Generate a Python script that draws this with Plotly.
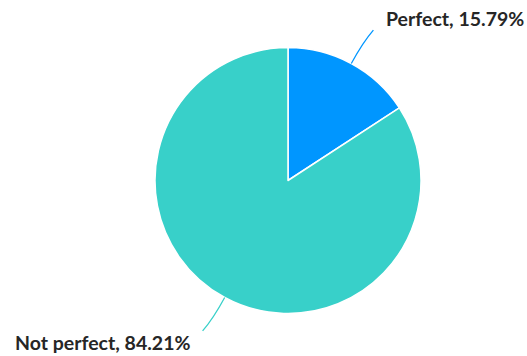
import math
import plotly.graph_objects as go

labels = ["Perfect", "Not perfect"]
values = [15.79, 84.21]
colors = ["#0096FF", "#38D0C9"]

W, H = 527, 356
cx, cy, r = 288, 180.5, 133  # pie centre / radius in pixels

def px(x):
    return x / W

def py(y):
    return 1 - y / H

fig = go.Figure(go.Pie(
    labels=labels, values=values, sort=False, direction="clockwise", rotation=0,
    marker=dict(colors=colors, line=dict(color="white", width=1.5)),
    textinfo="none", hoverinfo="label+percent", showlegend=False,
    domain=dict(x=[px(cx - r), px(cx + r)], y=[py(cy + r), py(cy - r)]),
))

total = sum(values)
start = 0.0
shapes, annotations = [], []
for lab, val, col in zip(labels, values, colors):
    mid = (start + val / 2) / total * 2 * math.pi
    start += val
    sx, sy = math.sin(mid), -math.cos(mid)
    x0, y0 = cx + r * sx, cy + r * sy
    side = 1 if sx >= 0 else -1
    x1, y1 = cx + (r + 38) * sx + side * 4, cy + (r + 38) * sy
    qx, qy = cx + (r + 24) * sx, cy + (r + 24) * sy
    path = f"M {px(x0)},{py(y0)} Q {px(qx)},{py(qy)} {px(x1)},{py(y1)}"
    shapes.append(dict(type="path", path=path, xref="paper", yref="paper",
                       line=dict(color=col, width=1.3)))
    annotations.append(dict(
        x=px(x1 + side * 11), y=py(y1 - 11.5 * side), xref="paper", yref="paper",
        text=f"<b>{lab}, {val:.2f}%</b>", showarrow=False,
        xanchor="left" if side > 0 else "right", yanchor="middle",
        font=dict(family="Lato", size=19.5, color="#262626")))

fig.update_layout(width=W, height=H, margin=dict(l=0, r=0, t=0, b=0),
                  paper_bgcolor="white", plot_bgcolor="white",
                  shapes=shapes, annotations=annotations)
fig.write_html("out.html", config={"displayModeBar": False},
               post_script="document.body.style.margin='0';document.body.style.overflow='hidden';")
